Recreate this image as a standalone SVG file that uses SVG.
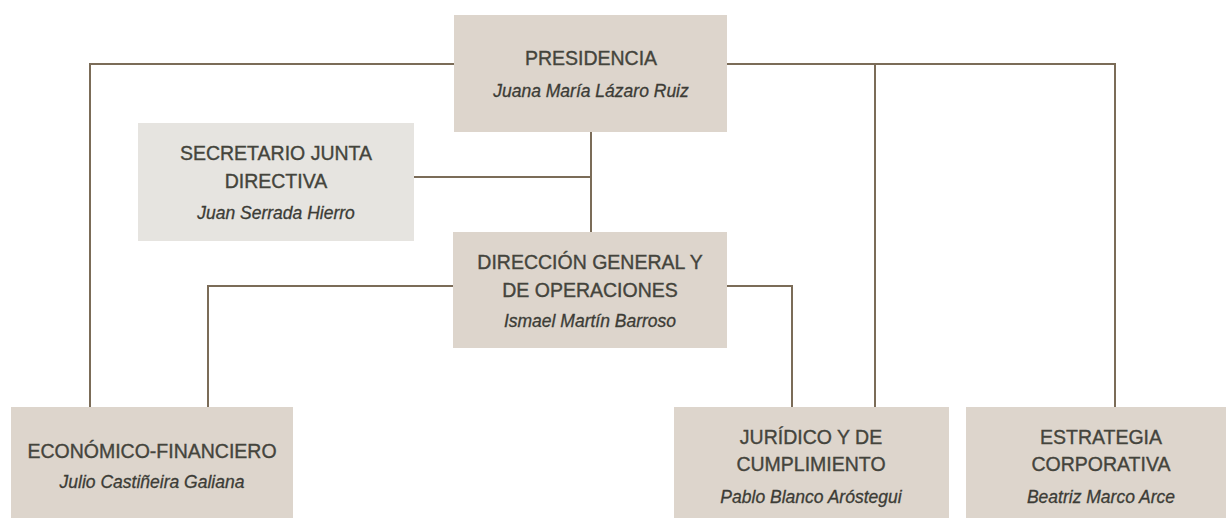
<svg xmlns="http://www.w3.org/2000/svg" width="1226" height="518" viewBox="0 0 1226 518">
  <style>
    .box { fill: #ddd5cc; }
    .box2 { fill: #e6e4e0; }
    .t { font-family: "Liberation Sans", Arial, sans-serif; font-size: 19.5px; fill: #44443c; stroke: #44443c; stroke-width: 0.35; text-anchor: middle; }
    .n { font-family: "Liberation Sans", Arial, sans-serif; font-size: 17.5px; font-style: italic; fill: #3c3c36; stroke: #3c3c36; stroke-width: 0.3; text-anchor: middle; }
    .c { fill: none; stroke: #7b6c58; stroke-width: 2; }
  </style>
  <rect width="1226" height="518" fill="#ffffff"/>
  <g id="connectors">
    <path class="c" d="M454,64 H90 V407"/>
    <path class="c" d="M727,64 H1115 V407"/>
    <path class="c" d="M875,64 V407"/>
    <path class="c" d="M591,132 V232"/>
    <path class="c" d="M414,177 H591"/>
    <path class="c" d="M453,286 H208 V407"/>
    <path class="c" d="M727,286 H792 V407"/>
  </g>
  <g id="presidencia">
    <rect class="box" x="454" y="15" width="273" height="117"/>
    <text class="t" x="591" y="65">PRESIDENCIA</text>
    <text class="n" x="591" y="97">Juana María Lázaro Ruiz</text>
  </g>
  <g id="secretario">
    <rect class="box2" x="138" y="123" width="276" height="118"/>
    <text class="t" x="276" y="160">SECRETARIO JUNTA</text>
    <text class="t" x="276" y="188">DIRECTIVA</text>
    <text class="n" x="276" y="219">Juan Serrada Hierro</text>
  </g>
  <g id="direccion">
    <rect class="box" x="453" y="232" width="274" height="116"/>
    <text class="t" x="590" y="269">DIRECCIÓN GENERAL Y</text>
    <text class="t" x="590" y="297">DE OPERACIONES</text>
    <text class="n" x="590" y="327">Ismael Martín Barroso</text>
  </g>
  <g id="economico">
    <rect class="box" x="11" y="407" width="282" height="111"/>
    <text class="t" x="152" y="458">ECONÓMICO-FINANCIERO</text>
    <text class="n" x="152" y="488">Julio Castiñeira Galiana</text>
  </g>
  <g id="juridico">
    <rect class="box" x="674" y="407" width="275" height="111"/>
    <text class="t" x="811" y="444">JURÍDICO Y DE</text>
    <text class="t" x="811" y="471">CUMPLIMIENTO</text>
    <text class="n" x="811" y="503">Pablo Blanco Aróstegui</text>
  </g>
  <g id="estrategia">
    <rect class="box" x="966" y="407" width="268" height="111"/>
    <text class="t" x="1101" y="444">ESTRATEGIA</text>
    <text class="t" x="1101" y="471">CORPORATIVA</text>
    <text class="n" x="1101" y="503">Beatriz Marco Arce</text>
  </g>
</svg>
